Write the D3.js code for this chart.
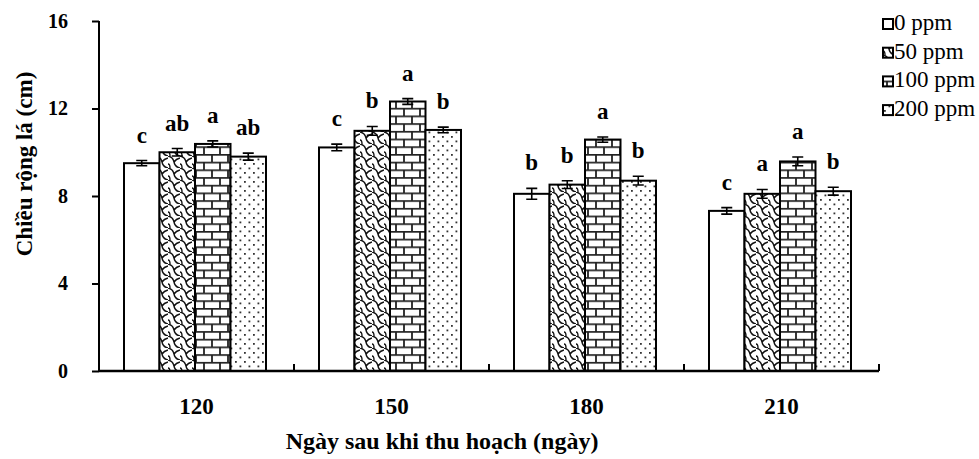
<!DOCTYPE html>
<html><head><meta charset="utf-8">
<script src="https://cdn.jsdelivr.net/npm/d3@7/dist/d3.min.js"></script>
<style>body{margin:0;background:#fff}</style>
</head><body><svg id="c" width="979" height="459"></svg>
<script>
const categories = ["120","150","180","210"];
const series = ["0 ppm","50 ppm","100 ppm","200 ppm"];
const values = [
  [9.50, 10.00, 10.38, 9.80],
  [10.22, 10.98, 12.32, 11.02],
  [8.10, 8.52, 10.58, 8.70],
  [7.32, 8.10, 9.58, 8.22]
];
const errors = [
  [0.12, 0.17, 0.14, 0.16],
  [0.15, 0.20, 0.13, 0.13],
  [0.25, 0.18, 0.12, 0.20],
  [0.15, 0.20, 0.20, 0.18]
];
const letters = [
  ["c","ab","a","ab"],
  ["c","b","a","b"],
  ["b","b","a","b"],
  ["c","a","a","b"]
];
const yTicks = [0,4,8,12,16];

const svg = d3.select("#c");
const font = "Liberation Serif";
const L = 99, R = 879, T = 21, B = 371;

const defs = svg.append("defs");
// shingle pattern
const p1 = defs.append("pattern").attr("id","p1").attr("patternUnits","userSpaceOnUse")
  .attr("width",12).attr("height",12);
p1.append("rect").attr("width",12).attr("height",12).attr("fill","#fff");
p1.append("path").attr("d","M0,0 Q5,1 6,6 Q7,11 12,12 M6,6 Q8,3 12,2 M0,8 Q2,8 2,12")
  .attr("fill","none").attr("stroke","#111").attr("stroke-width",1.4);
// brick pattern
const p2 = defs.append("pattern").attr("id","p2").attr("patternUnits","userSpaceOnUse")
  .attr("width",16).attr("height",15.4);
p2.append("rect").attr("width",16).attr("height",15.4).attr("fill","#fff");
p2.append("path").attr("d","M0,0.8 H16 M0,8.5 H16 M4,0.8 V8.5 M12,8.5 V15.4")
  .attr("fill","none").attr("stroke","#222").attr("stroke-width",1.8);
// dots
const p3 = defs.append("pattern").attr("id","p3").attr("patternUnits","userSpaceOnUse")
  .attr("width",9).attr("height",9);
p3.append("rect").attr("width",9).attr("height",9).attr("fill","#fff");
p3.append("rect").attr("x",1).attr("y",1).attr("width",1.8).attr("height",1.8).attr("fill","#333");
p3.append("rect").attr("x",5.5).attr("y",5.5).attr("width",1.8).attr("height",1.8).attr("fill","#333");
const fills = ["#fff","url(#p1)","url(#p2)","url(#p3)"];

const x0 = d3.scaleBand().domain(categories).range([L, R]);
const y = d3.scaleLinear().domain([0,16]).range([B, T]);
const x1 = d3.scaleBand().domain(series).range([25, 167]);

const g = svg.append("g");
categories.forEach((c, ci) => {
  series.forEach((s, si) => {
    const v = values[ci][si], e = errors[ci][si];
    const bx = x0(c) + x1(s), bw = x1.bandwidth();
    g.append("rect").attr("x",bx).attr("y",y(v)).attr("width",bw).attr("height",B - y(v))
      .attr("fill",fills[si]).attr("stroke","#000").attr("stroke-width",2);
    const cx = bx + bw/2;
    g.append("path").attr("d",`M${cx},${y(v+e)}V${y(v-e)}M${cx-5.5},${y(v+e)}H${cx+5.5}M${cx-5.5},${y(v-e)}H${cx+5.5}`)
      .attr("stroke","#000").attr("stroke-width",1.6).attr("fill","none");
    g.append("text").attr("x",cx).attr("y",y(v+e) - 18).attr("text-anchor","middle")
      .attr("font-family",font).attr("font-weight","bold").attr("font-size",23).text(letters[ci][si]);
  });
});

// y axis
const ya = svg.append("g").attr("transform",`translate(${L},0)`)
  .call(d3.axisLeft(y).tickValues(yTicks).tickSize(7).tickPadding(24));
ya.select(".domain").attr("stroke-width",2).attr("d",`M0,${T}H0V${B}`);
ya.selectAll(".tick line").attr("stroke-width",2);
ya.selectAll(".tick text").attr("font-family",font).attr("font-weight","bold").attr("font-size",20).attr("fill","#000");

// x axis
const xa = svg.append("g").attr("transform",`translate(0,${B})`)
  .call(d3.axisBottom(x0).tickSize(0).tickPadding(27));
xa.select(".domain").attr("stroke-width",2.5).attr("d",`M${L},0H${R}`);
xa.selectAll(".tick text").attr("font-family",font).attr("font-weight","bold").attr("font-size",23).attr("fill","#000");
categories.forEach(c => {
  svg.append("line").attr("x1",x0(c)+x0.bandwidth()).attr("x2",x0(c)+x0.bandwidth())
    .attr("y1",B).attr("y2",B-7).attr("stroke","#000").attr("stroke-width",2);
});

// titles
svg.append("text").attr("transform","translate(32,164) rotate(-90)").attr("text-anchor","middle")
  .attr("font-family",font).attr("font-weight","bold").attr("font-size",23).text("Chiều rộng lá (cm)");
svg.append("text").attr("x",442).attr("y",449).attr("text-anchor","middle")
  .attr("font-family",font).attr("font-weight","bold").attr("font-size",24).text("Ngày sau khi thu hoạch (ngày)");

// legend
const lg = svg.append("g").attr("transform","translate(883,19)");
series.forEach((s, si) => {
  const gy = si * 28.7;
  lg.append("rect").attr("x",0).attr("y",gy).attr("width",10).attr("height",10)
    .attr("fill",fills[si]).attr("stroke","#000").attr("stroke-width",2);
  lg.append("text").attr("x",11).attr("y",gy + 11).attr("font-family",font).attr("font-size",23).text(s);
});
</script></body></html>
